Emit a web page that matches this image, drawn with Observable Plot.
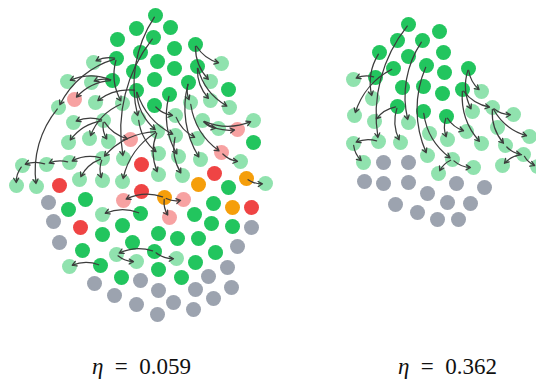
<!DOCTYPE html>
<html><head><meta charset="utf-8">
<script src="https://cdn.jsdelivr.net/npm/d3@7"></script>
<script src="https://cdn.jsdelivr.net/npm/@observablehq/plot@0.6"></script>
<style>body{margin:0;background:#fff}</style>
</head><body><div id="chart"></div>
<script>
// ---- data: node positions (layout units) by status ----
const darkGreen = [
[155,15],[136,28],[170,27],[117,39],[153,37],[140,52],[174,48],[195,44],[116,58],[157,61],[133,71],[174,68],[197,66],[112,80],[154,79],[188,82],[228,89],[136,90],[169,94],[154,105],[253,142],[228,187],[85,199],[68,209],[213,203],[140,213],[194,214],[122,225],[211,223],[232,226],[102,234],[132,242],[158,233],[177,238],[198,238],[82,250],[154,251],[215,252],[100,265],[158,269],[195,262],[121,277],[181,277],
[408,24],[397,40],[422,40],[439,31],[379,52],[408,56],[443,52],[393,68],[426,65],[444,72],[468,68],[375,77],[402,87],[423,86],[442,93],[462,89],[397,106],[423,111],[446,116]
];
const lightGreen = [
[93,62],[221,63],[67,81],[91,82],[210,81],[95,102],[122,103],[190,102],[210,100],[229,107],[58,107],[138,118],[175,115],[202,120],[253,120],[73,122],[103,120],[157,131],[218,128],[68,142],[89,138],[108,141],[175,135],[197,138],[158,153],[178,156],[200,159],[240,161],[22,165],[46,164],[69,162],[102,158],[123,158],[158,174],[182,175],[16,185],[36,186],[79,179],[102,180],[122,181],[265,183],[102,214],[116,254],[176,258],[69,266],[136,261],
[353,79],[372,98],[481,91],[354,115],[374,121],[408,122],[472,111],[492,107],[513,114],[429,133],[466,131],[497,127],[529,136],[353,143],[378,141],[400,142],[447,139],[481,143],[505,145],[363,162],[427,155],[452,159],[473,167],[523,154],[537,166],[502,165],[438,173]
];
const lightRed = [[74,99],[130,139],[237,129],[221,152],[123,200],[183,199],[169,217]];
const red = [[141,164],[59,185],[214,173],[141,191],[251,207],[80,227]];
const orange = [[198,184],[246,178],[164,197],[232,207]];
const gray = [
[48,202],[53,221],[59,242],[251,227],[237,246],[227,267],[94,283],[140,280],[208,276],[114,295],[158,290],[195,289],[231,287],[136,304],[173,302],[213,298],[157,314],[193,309],
[383,162],[408,162],[364,181],[383,183],[408,182],[456,183],[484,187],[427,193],[395,204],[447,202],[470,203],[417,212],[437,219],[458,219]
];
// ---- data: edges [from x, from y, to x, to y] ----
const edges = [
[116,58,93,62],[116,58,58,107],[116,58,122,103],[112,80,67,81],[112,80,91,82],[112,80,74,99],[136,90,95,102],
[195,44,221,63],[195,44,210,81],[197,66,229,107],[197,66,210,100],[188,82,190,102],[155,15,138,118],[153,37,123,158],
[136,90,157,131],[136,90,175,135],[154,105,175,115],[169,94,178,156],[188,82,200,159],[190,102,221,152],
[202,120,218,128],[202,120,237,129],[202,120,253,120],[221,152,240,161],[246,178,265,183],
[164,197,183,199],[164,197,169,217],[164,197,123,200],[138,118,158,153],[157,131,158,174],[157,131,102,158],[157,131,122,181],
[175,115,197,138],[175,135,182,175],[122,103,89,138],[103,120,73,122],[103,120,68,142],[103,120,108,141],[103,120,130,139],
[46,164,22,165],[69,162,46,164],[102,158,69,162],[22,165,16,185],[58,107,36,186],[102,158,79,179],[102,158,102,180],
[140,213,102,214],[100,265,69,266],[154,251,116,254],[116,254,136,261],[154,251,176,258],
[408,24,378,140],[393,68,354,115],[375,77,353,79],[379,52,372,98],[397,106,374,121],[397,106,400,142],[422,40,408,122],
[426,65,427,155],[423,111,452,159],[452,159,438,173],[452,159,473,167],[446,116,447,139],[446,116,466,131],
[468,68,481,91],[468,68,472,111],[462,89,492,107],[462,89,481,143],[492,107,513,114],[492,107,529,136],[492,107,505,145],
[505,145,523,154],[523,154,502,165],[523,154,537,166],[353,143,363,162],[378,141,353,143]
];
const labelText = ["η = 0.059", "η = 0.362"];
const labelX = [141, 447];

const statuses = ["darkGreen","lightGreen","lightRed","red","orange","gray"];
const groups = [darkGreen, lightGreen, lightRed, red, orange, gray];
const nodes = groups.flatMap((g, i) => g.map(([x, y]) => ({x, y, status: statuses[i]})));
const links = edges.map(([x1, y1, x2, y2]) => ({x1, y1, x2, y2}));
const labels = labelText.map((t, i) => ({x: labelX[i], y: 366, text: t}));
const serif = "'Liberation Serif', 'DejaVu Serif', serif";

const chart = Plot.plot({
  width: 536, height: 379, margin: 0,
  x: {domain: [0, 536], range: [0, 536], axis: null},
  y: {domain: [0, 379], range: [0, 379], axis: null},
  color: {domain: statuses, range: ["#22c55e","#90e2ae","#f7a2a2","#ef4444","#f59e0b","#9ca3af"]},
  style: {background: "#fff"},
  marks: [
    Plot.dot(nodes, {x: "x", y: "y", r: 7.5, fill: "status"}),
    Plot.arrow(links, {x1: "x1", y1: "y1", x2: "x2", y2: "y2", bend: -25, stroke: "#3c3c3c", strokeWidth: 1.25, headLength: 6, insetStart: 2, insetEnd: 3}),
    Plot.text(labels, {x: "x", y: "y", text: "text", fontSize: 23, fontFamily: serif, fill: "#111"})
  ]
});
document.getElementById("chart").appendChild(chart);
// italicise the eta symbol, keep text as real text
chart.querySelectorAll("text").forEach(t => {
  const s = t.textContent;
  if (s.startsWith("η")) {
    t.style.fontFamily = serif;
    t.textContent = "";
    const ns = "http://www.w3.org/2000/svg";
    const a = document.createElementNS(ns, "tspan"); a.setAttribute("font-style", "italic"); a.textContent = "η";
    const b = document.createElementNS(ns, "tspan"); b.textContent = s.slice(1).replace(/ /g, "\u2002");
    t.appendChild(a); t.appendChild(b);
  }
});
</script></body></html>
